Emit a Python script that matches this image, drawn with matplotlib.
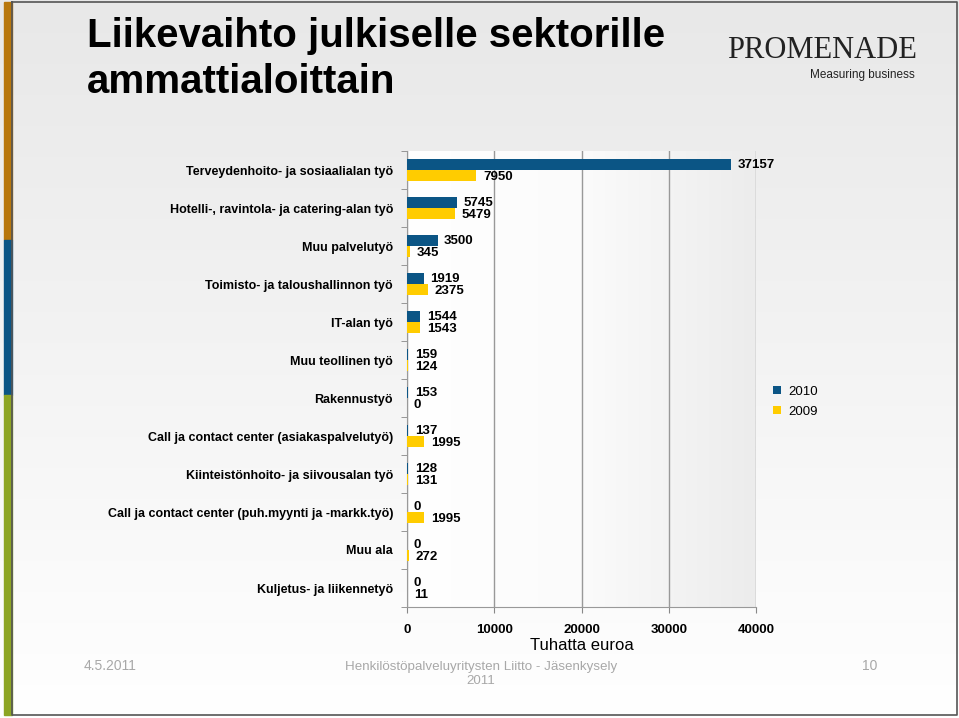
import numpy as np
import matplotlib
matplotlib.use("Agg")
import matplotlib.pyplot as plt
from matplotlib.patches import Rectangle

plt.rcParams['font.family'] = ['Liberation Sans', 'DejaVu Sans']

# data
categories = ['Terveydenhoito- ja sosiaalialan työ',
              'Hotelli-, ravintola- ja catering-alan työ',
              'Muu palvelutyö',
              'Toimisto- ja taloushallinnon työ',
              'IT-alan työ',
              'Muu teollinen työ',
              'Rakennustyö',
              'Call ja contact center (asiakaspalvelutyö)',
              'Kiinteistönhoito- ja siivousalan työ',
              'Call ja contact center (puh.myynti ja -markk.työ)',
              'Muu ala',
              'Kuljetus- ja liikennetyö']
v2010 = [37157, 5745, 3500, 1919, 1544, 159, 153, 137, 128, 0, 0, 0]
v2009 = [7950, 5479, 345, 2375, 1543, 124, 0, 1995, 131, 1995, 272, 11]
xticks = [0, 10000, 20000, 30000, 40000]

c2010 = '#0b5585'
c2009 = '#ffcc00'

fig = plt.figure(figsize=(9.59, 7.18), dpi=100)

# slide background
bg = fig.add_axes([0, 0, 1, 1], zorder=-10)
grad = np.linspace(0, 1, 256).reshape(-1, 1)
bg.imshow(grad, aspect='auto', cmap=matplotlib.colors.LinearSegmentedColormap.from_list(
    'bgc', ['#e8e8e8', '#ffffff']), extent=[0, 1, 0, 1], origin='upper')
bg.set_xlim(0, 1)
bg.set_ylim(0, 1)
bg.axis('off')
# left colour stripe
bg.add_patch(Rectangle((4/959, 1-240/718), 8/959, 238/718, color='#b8770c'))
bg.add_patch(Rectangle((4/959, 1-395/718), 8/959, 155/718, color='#0b5585'))
bg.add_patch(Rectangle((4/959, 3/718), 8/959, 1-395/718-3/718, color='#8da524'))
# frame
bg.plot([12/959, 957/959, 957/959, 12/959, 12/959],
        [1-1.5/718, 1-1.5/718, 3/718, 3/718, 1-1.5/718], color='#555555', lw=1.2)

# title and logo
fig.text(87/959, 1-17/718, 'Liikevaihto julkiselle sektorille\nammattialoittain',
         fontsize=29, fontweight='bold', family=['Liberation Sans Narrow', 'Liberation Sans'],
         va='top', ha='left', linespacing=1.26)
fig.text(822/959, 1-51/718, 'PROMENADE', fontsize=22, family='Liberation Serif',
         color='#222222', ha='center', va='center')
fig.text(915/959, 1-75/718, 'Measuring business', fontsize=8.5,
         family=['Liberation Sans Narrow', 'Liberation Sans'], color='#222222',
         ha='right', va='center')

# chart
ax = fig.add_axes([407/959, 1-607/718, 349/959, 456/718])
ax.imshow(np.linspace(0, 1, 256).reshape(1, -1), aspect='auto',
          cmap=matplotlib.colors.LinearSegmentedColormap.from_list(
              'pc', ['#ffffff', '#fbfbfb', '#ececec']),
          extent=[0, 40000, 11.5, -0.5], zorder=0)

y = np.arange(len(categories))
h = 0.29
ax.barh(y - h/2, v2010, height=h, color=c2010, label='2010', zorder=3)
ax.barh(y + h/2, v2009, height=h, color=c2009, label='2009', zorder=3)

pad = 750
for i in range(len(categories)):
    ax.text(v2010[i] + pad, y[i] - h/2 + 0.02, str(v2010[i]), fontsize=9.5,
            fontweight='bold', va='center', ha='left', zorder=4)
    ax.text(v2009[i] + pad, y[i] + h/2 + 0.05, str(v2009[i]), fontsize=9.5,
            fontweight='bold', va='center', ha='left', zorder=4)

ax.set_xlim(0, 40000)
ax.set_ylim(11.5, -0.5)
ax.set_xticks(xticks)
ax.set_xticklabels([str(t) for t in xticks], fontsize=9.5, fontweight='bold')
ax.set_yticks(y)
ax.set_yticklabels(categories, fontsize=9, fontweight='bold')
ax.tick_params(axis='y', length=0, pad=10)
ax.set_yticks(np.arange(-0.5, 12, 1), minor=True)
ax.tick_params(axis='y', which='minor', length=4, color='#888888')
ax.tick_params(axis='x', length=4, color='#888888', pad=8)
ax.grid(axis='x', color='#999999', lw=1, zorder=1)
for s in ['top', 'right']:
    ax.spines[s].set_visible(False)
for s in ['left', 'bottom']:
    ax.spines[s].set_color('#999999')
ax.set_xlabel('Tuhatta euroa', fontsize=12, labelpad=2)

ax.legend(loc='upper left', bbox_to_anchor=(1.035, 0.497), frameon=False,
          fontsize=9.5, handlelength=0.6, handleheight=0.6, handletextpad=0.5,
          labelspacing=0.6, borderaxespad=0)

# footer
fig.text(110/959, 1-666/718, '4.5.2011', fontsize=10, color='#a8a8a8', ha='center', va='center')
fig.text(481/959, 1-674/718, 'Henkilöstöpalveluyritysten Liitto - Jäsenkysely\n2011',
         fontsize=9.6, color='#a8a8a8', ha='center', va='center', linespacing=1.3)
fig.text(870/959, 1-666/718, '10', fontsize=10, color='#a8a8a8', ha='center', va='center')

fig.savefig('out.png', dpi=100)
